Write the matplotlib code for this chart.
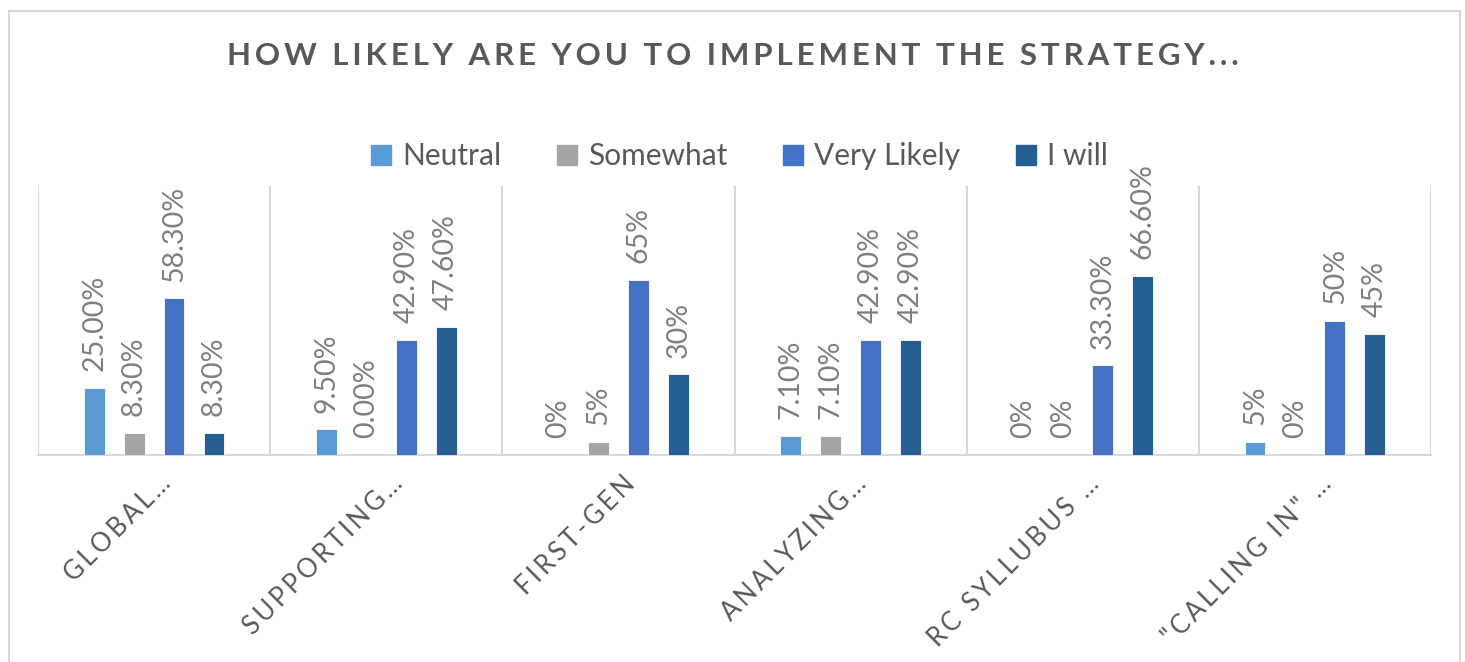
import numpy as np
import matplotlib.pyplot as plt
from matplotlib.lines import Line2D
from matplotlib.patches import Rectangle

# ---- data ----
categories = ['GLOBAL…', 'SUPPORTING…', 'FIRST-GEN', 'ANALYZING…', 'RC SYLLUBUS …', '"CALLING IN" …']
series = ['Neutral', 'Somewhat', 'Very Likely', 'I will']
neutral = [25.0, 9.5, 0, 7.1, 0, 5]
somewhat = [8.3, 0.0, 5, 7.1, 0, 0]
very_likely = [58.3, 42.9, 65, 42.9, 33.3, 50]
i_will = [8.3, 47.6, 30, 42.9, 66.6, 45]
# decimals shown in each data label (as in the source sheet)
neutral_dec = [2, 2, 0, 2, 0, 0]
somewhat_dec = [2, 2, 0, 2, 0, 0]
very_likely_dec = [2, 2, 0, 2, 2, 0]
i_will_dec = [2, 2, 0, 2, 2, 0]

colors = ['#5B9BD5', '#A5A5A5', '#4472C4', '#255E91']
title = 'HOW LIKELY ARE YOU TO IMPLEMENT THE STRATEGY...'

plt.rcParams['font.family'] = ['Lato', 'DejaVu Sans']

W, H = 1465, 662
fig = plt.figure(figsize=(W / 100, H / 100), dpi=100)

# outer chart border
fig.patches.append(Rectangle((9 / W, -0.05), (1460 - 9) / W, 1.05 - 11 / H,
                             transform=fig.transFigure, fill=False,
                             edgecolor='#D9D9D9', linewidth=1.5))

ax = fig.add_axes([38 / W, 207 / H, (1431 - 38) / W, (455 - 186) / H])

def spaced(s, sep='\u2009'):
    # crude letter spacing with thin spaces
    return sep.join(s)

values = [neutral, somewhat, very_likely, i_will]
decimals = [neutral_dec, somewhat_dec, very_likely_dec, i_will_dec]
x = np.arange(len(categories))
bw = 0.09
offsets = np.array([-1.5, -0.5, 0.5, 1.5]) * 0.172

for s, (vals, dec, col, off) in enumerate(zip(values, decimals, colors, offsets)):
    bars = ax.bar(x + off, vals, width=bw, color=col, edgecolor='white',
                  linewidth=0.6, label=series[s], zorder=3)
    for b, v, d in zip(bars, vals, dec):
        ax.annotate(f'{v:.{d}f}%',
                    (b.get_x() + b.get_width() / 2, v),
                    xytext=(0, 12), textcoords='offset points',
                    rotation=90, ha='center', va='bottom',
                    fontsize=20.5, color='#7F7F7F')

ax.set_xlim(-0.5, len(categories) - 0.5)
ax.set_ylim(0, 100)
ax.set_yticks([])
ax.set_xticks([])
for b in np.arange(-0.5, len(categories), 1.0):
    ax.axvline(b, color='#D9D9D9', linewidth=1.5, zorder=1)
for sp in ['top', 'left', 'right']:
    ax.spines[sp].set_visible(False)
ax.spines['bottom'].set_color('#D9D9D9')
ax.spines['bottom'].set_linewidth(1.5)

# category labels
for i, c in enumerate(categories):
    ax.text(i + 0.015, -0.06, spaced(c), transform=ax.get_xaxis_transform(),
            rotation=45, rotation_mode='anchor', ha='right', va='top',
            fontsize=18.5, color='#595959')

fig.text(0.5, 1 - 56 / H, spaced(title), ha='center', va='center',
         fontsize=22.5, fontweight='bold', color='#595959')

handles = [Line2D([], [], marker='s', linestyle='', markersize=14,
                  markerfacecolor=c, markeredgecolor=c) for c in colors]
fig.legend(handles, series, loc='center', bbox_to_anchor=(0.503, 1 - 156 / H),
           ncol=4, frameon=False, fontsize=21.5, labelcolor='#595959',
           handletextpad=0.2, columnspacing=1.7, handlelength=1.0)

fig.savefig('out.png', dpi=100)
